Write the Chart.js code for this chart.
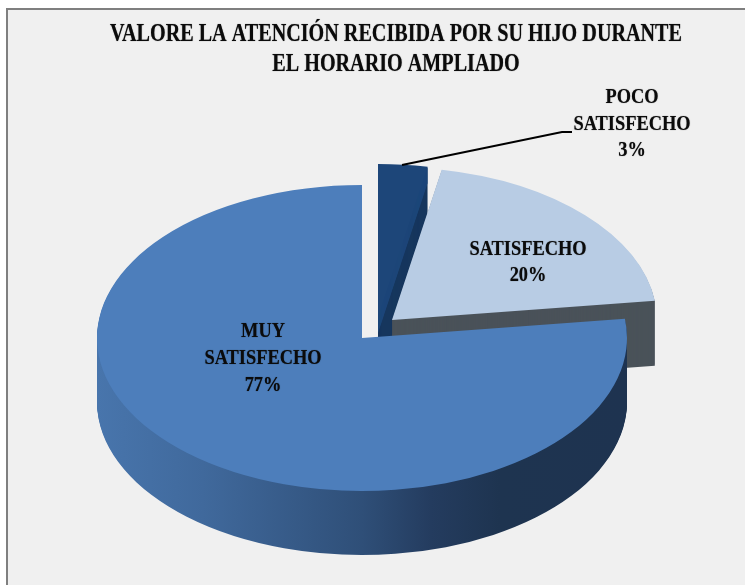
<!DOCTYPE html>
<html>
<head>
<meta charset="utf-8">
<script src="https://cdn.jsdelivr.net/npm/chart.js@4"></script>
<style>
html,body{margin:0;padding:0;background:#fff;overflow:hidden}
#frame{position:absolute;left:6px;top:8px;width:745px;height:585px;background:#f0f0f0;border-left:2px solid #7f7f7f;border-top:2px solid #7f7f7f}
#c{position:absolute;left:0;top:0}
</style>
</head>
<body>
<div id="frame"></div>
<canvas id="c" width="745" height="585"></canvas>
<script>
const categories = ['POCO SATISFECHO', 'SATISFECHO', 'MUY SATISFECHO'];
const values = [3, 20, 77];
const labelLines = [['POCO', 'SATISFECHO'], ['SATISFECHO'], ['MUY', 'SATISFECHO']];
const titleLines = ['VALORE LA ATENCIÓN RECIBIDA POR SU HIJO DURANTE', 'EL HORARIO AMPLIADO'];
const topColors = ['#1d4679', '#b8cce4', '#4d7ebb'];
const wallColors = ['#17375e', '#4a5259', null];
const wallStops = [[0, '#4875ac'], [0.2, '#40699c'], [0.5, '#2f4f78'], [0.63, '#243c5f'], [0.76, '#1e3450'], [1, '#1e3350']];

// projection of the 3D pie
const view = { cx: 362, cy: 338, rx: 265, ry: 153, depth: 64 };
const explode = [[16, -21], [30, -18], [0, 0]];
const faceBleed = [16, 0, 0];
const labelPos = [[632, 98, 26.5], [528, 250, 26], [263, 332, 27]];
const leader = [[402, 165], [562, 132], [572, 132]];
const titlePos = { x: 396, y: 34, step: 30, size: 26, squeeze: 0.775 };
const labelFont = { size: 21, squeeze: 0.875 };

function squeezedText(ctx, text, x, y, squeeze) {
  ctx.save();
  ctx.translate(x, y);
  ctx.scale(squeeze, 1);
  ctx.fillText(text, 0, 0);
  ctx.restore();
}

const pie3d = {
  id: 'pie3d',
  beforeDatasetDraw(chart, args) {
    const ctx = chart.ctx;
    const meta = args.meta;
    meta.data.forEach((arc, i) => {
      const R = arc.outerRadius;
      const sx = view.rx / R, sy = view.ry / R;
      const ox = view.cx + explode[i][0], oy = view.cy + explode[i][1];
      const base = arc.options;
      const paint = (dy, fill) => {
        ctx.save();
        ctx.translate(ox, oy + dy);
        ctx.scale(sx, sy);
        ctx.translate(-arc.x, -arc.y);
        arc.options = Object.assign({}, base, { backgroundColor: fill, borderWidth: 0 });
        arc.draw(ctx);
        arc.options = base;
        ctx.restore();
      };
      let wall = wallColors[i];
      if (!wall) {
        const g = ctx.createLinearGradient(arc.x - R, 0, arc.x + R, 0);
        wallStops.forEach(s => g.addColorStop(s[0], s[1]));
        wall = g;
      }
      for (let d = view.depth + (i === 1 ? 1 : 0); d > 0; d--) paint(d, wall);
      for (let d = faceBleed[i]; d > 0; d--) paint(d, topColors[i]);
      paint(0, topColors[i]);
    });
    return false;
  },
  afterDatasetsDraw(chart) {
    const ctx = chart.ctx;
    ctx.save();
    ctx.strokeStyle = '#000';
    ctx.lineWidth = 2;
    ctx.beginPath();
    leader.forEach((p, i) => i ? ctx.lineTo(p[0], p[1]) : ctx.moveTo(p[0], p[1]));
    ctx.stroke();
    ctx.fillStyle = '#0b0b0b';
    ctx.shadowColor = 'rgba(0,0,0,0.55)';
    ctx.shadowBlur = 1;
    ctx.textAlign = 'center';
    ctx.textBaseline = 'middle';
    ctx.font = 'bold ' + labelFont.size + 'px "Liberation Serif"';
    values.forEach((v, i) => {
      const lines = labelLines[i].concat(v + '%');
      const [x, y, step] = labelPos[i];
      lines.forEach((t, k) => squeezedText(ctx, t, x, y + k * step, labelFont.squeeze));
    });
    ctx.font = 'bold ' + titlePos.size + 'px "Liberation Serif"';
    titleLines.forEach((t, k) => squeezedText(ctx, t, titlePos.x, titlePos.y + k * titlePos.step, titlePos.squeeze));
    ctx.restore();
  }
};

new Chart(document.getElementById('c'), {
  type: 'pie',
  data: {
    labels: categories,
    datasets: [{ data: values, backgroundColor: topColors, borderWidth: 0 }]
  },
  options: {
    responsive: false,
    animation: false,
    events: [],
    rotation: 0,
    layout: { padding: 0 },
    plugins: {
      legend: { display: false },
      tooltip: { enabled: false },
      title: { display: false }
    }
  },
  plugins: [pie3d]
});
</script>
</body>
</html>
